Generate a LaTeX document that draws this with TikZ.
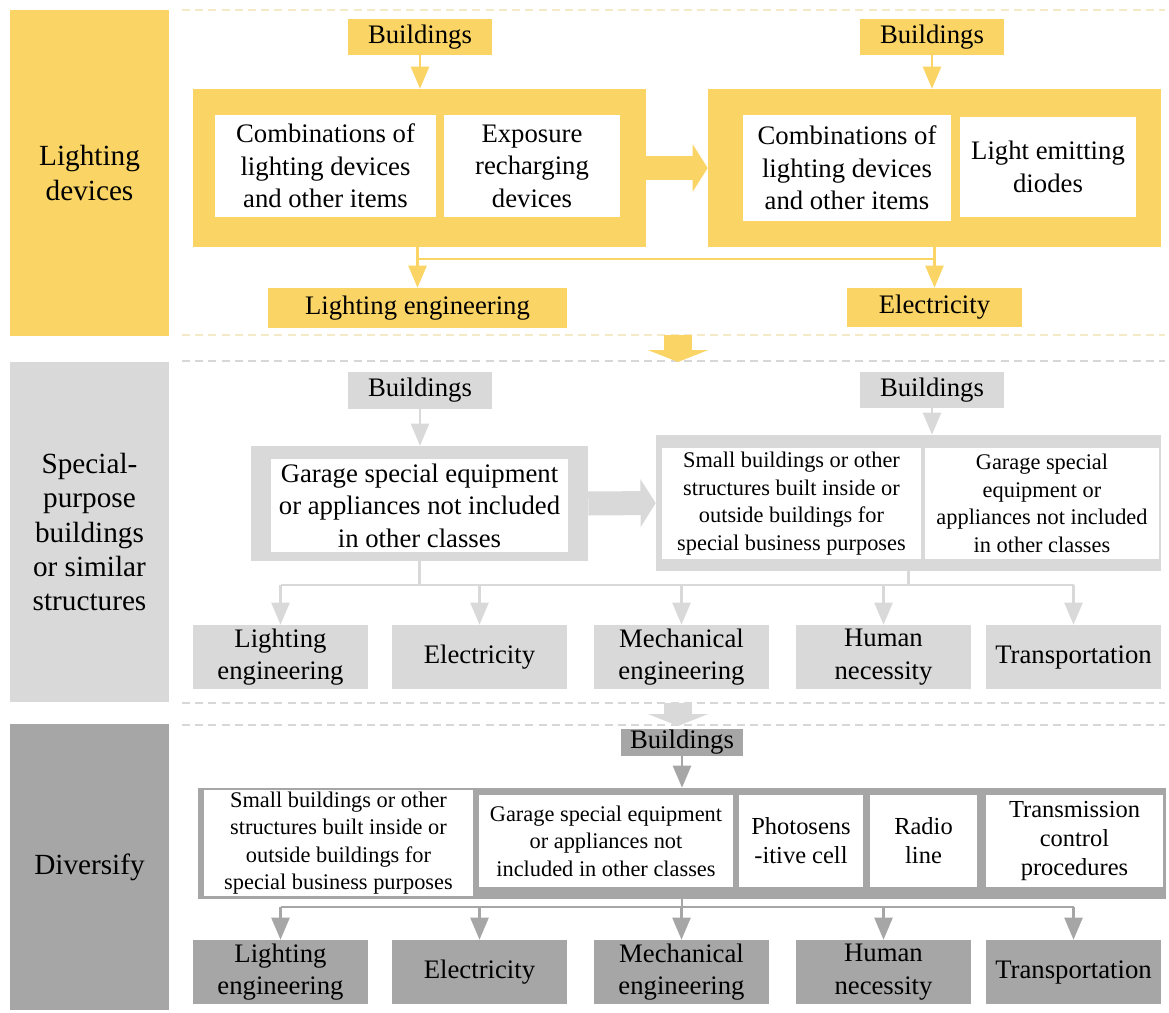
\documentclass[tikz,border=0pt]{standalone}
\usepackage{fontspec}
\setmainfont{Liberation Serif}
\usetikzlibrary{arrows.meta}

\definecolor{yel}{RGB}{250,212,100}
\definecolor{yeldash}{RGB}{244,234,200}
\definecolor{lgray}{RGB}{217,217,217}
\definecolor{dgray}{RGB}{166,166,166}
\definecolor{gdash}{RGB}{215,215,215}

\newcommand{\mainfs}{\fontsize{19}{23.1}\selectfont}
\newcommand{\labfs}{\fontsize{20.8}{24.5}\selectfont}
\newcommand{\smallfs}{\fontsize{15.9}{19.6}\selectfont}
\newcommand{\midfs}{\fontsize{17.4}{20.6}\selectfont}

\tikzset{
  every node/.style={align=center, inner sep=0pt, font=\mainfs},
  sz/.style 2 args={minimum width=#1*0.025cm, minimum height=#2*0.025cm},
  ybox/.style={fill=yel},
  gbox/.style={fill=lgray},
  dbox/.style={fill=dgray},
  wbox/.style={fill=white},
  sep/.style={line width=0.8pt, dash pattern=on 0.2cm off 0.13cm},
  ln/.style={line width=0.06cm},
  conn/.style={line width=0.06cm, -{Triangle[length=0.55cm,width=0.45cm]}},
  bigr/.style={line width=0.6cm, -{Triangle[length=0.38cm,width=1.18cm]}},
  bigd/.style={line width=0.7cm, -{Triangle[length=0.3cm,width=1.5cm]}},
}

\begin{document}
\begin{tikzpicture}[x=0.025cm, y=-0.025cm]
    \useasboundingbox (0,0) rectangle (1169,1012);

    % separators
    \draw[sep, yeldash] (182,10) -- (1165,10);
    \draw[sep, yeldash] (182,335) -- (1165,335);
    \draw[sep, gdash] (182,361) -- (1165,361);
    \draw[sep, gdash] (182,703) -- (1165,703);
    \draw[sep, gdash] (182,725) -- (1165,725);

    % lighting devices
    \node[ybox, sz={159}{326}, font=\labfs] (lab1) at (89.5,173) {Lighting\\devices};
    \node[ybox, sz={144}{36}] (bL1) at (420,37) {Buildings};
    \node[ybox, sz={144}{36}] (bR1) at (932,37) {Buildings};
    \node[ybox, sz={453}{158}] (frL1) at (419.5,168) {};
    \node[ybox, sz={453}{158}] (frR1) at (934.5,168) {};
    \node[wbox, sz={221}{102}] (cL1) at (325.5,166) {Combinations of\\lighting devices\\and other items};
    \node[wbox, sz={176}{102}] (ex1) at (532,166) {Exposure\\recharging\\devices};
    \node[wbox, sz={208}{106}] (cR1) at (847,168) {Combinations of\\lighting devices\\and other items};
    \node[wbox, sz={176}{100}] (led1) at (1048,167) {Light emitting\\diodes};
    \node[ybox, sz={299}{40}] (le1) at (417.5,308) {Lighting engineering};
    \node[ybox, sz={175}{39}] (el1) at (934.5,307.5) {Electricity};

    \draw[conn, yel] (bL1.south) -- (bL1.south |- frL1.north);
    \draw[conn, yel] (bR1.south) -- (bR1.south |- frR1.north);
    \draw[bigr, yel] (frL1.east) -- (frR1.west);
    \coordinate (j1) at (0,259);
    \draw[conn, yel] (le1.north |- frL1.south) -- (le1.north);
    \draw[conn, yel] (el1.north |- frR1.south) -- (el1.north);
    \draw[ln, yel] (le1.north |- j1) -- (el1.north |- j1);

    \coordinate (d1a) at (678,335);
    \coordinate (d1b) at (678,362);
    \draw[bigd, yel] (d1a) -- (d1b);

    % special-purpose buildings
    \node[gbox, sz={159}{340}, font=\labfs] (lab2) at (89.5,532) {Special-\\purpose\\buildings\\or similar\\structures};
    \node[gbox, sz={144}{37}] (bL2) at (420,390.5) {Buildings};
    \node[gbox, sz={144}{36}] (bR2) at (932,390) {Buildings};
    \node[gbox, sz={337}{115}] (frL2) at (419.5,503.5) {};
    \node[gbox, sz={505}{136}] (frR2) at (908.5,503) {};
    \node[wbox, sz={297}{93}] (gL2) at (419.5,505.5) {Garage special equipment\\or appliances not included\\in other classes};
    \node[wbox, sz={259}{111}, font=\smallfs] (sm2) at (791.5,503.5) {Small buildings or other\\structures built inside or\\outside buildings for\\special business purposes};
    \node[wbox, sz={234}{111}, font=\smallfs] (gR2) at (1042,503.5) {Garage special\\equipment or\\appliances not included\\in other classes};
    \node[gbox, sz={175}{64}] (le2) at (280.5,657) {Lighting\\engineering};
    \node[gbox, sz={175}{64}] (el2) at (479.5,657) {Electricity};
    \node[gbox, sz={175}{64}] (me2) at (681.5,657) {Mechanical\\engineering};
    \node[gbox, sz={175}{64}] (hn2) at (883.5,657) {Human\\necessity};
    \node[gbox, sz={175}{64}] (tr2) at (1073.5,657) {Transportation};

    \draw[conn, lgray] (bL2.south) -- (bL2.south |- frL2.north);
    \draw[conn, lgray] (bR2.south) -- (bR2.south |- frR2.north);
    \draw[bigr, lgray] (frL2.east) -- (frR2.west);
    \coordinate (j2) at (0,585);
    \draw[ln, lgray] (frL2.south) -- (frL2.south |- j2);
    \draw[ln, lgray] (frR2.south) -- (frR2.south |- j2);
    \draw[ln, lgray] (le2.north |- j2) -- (tr2.north |- j2);
    \draw[conn, lgray] (le2.north |- j2) -- (le2.north);
    \draw[conn, lgray] (el2.north |- j2) -- (el2.north);
    \draw[conn, lgray] (me2.north |- j2) -- (me2.north);
    \draw[conn, lgray] (hn2.north |- j2) -- (hn2.north);
    \draw[conn, lgray] (tr2.north |- j2) -- (tr2.north);

    \coordinate (d2a) at (678,703);
    \coordinate (d2b) at (678,726);
    \draw[bigd, lgray] (d2a) -- (d2b);

    % diversify
    \node[dbox, sz={159}{286}, font=\labfs] (lab3) at (89.5,867) {Diversify};
    \node[dbox, sz={122}{27}] (b3) at (682,742.5) {Buildings};
    \node[dbox, sz={968}{111}] (fr3) at (682,843.5) {};
    \node[wbox, sz={269}{106}, font=\smallfs] (sm3) at (338.5,843) {Small buildings or other\\structures built inside or\\outside buildings for\\special business purposes};
    \node[wbox, sz={254}{92}, font=\smallfs] (g3) at (606,841) {Garage special equipment\\or appliances not\\included in other classes};
    \node[wbox, sz={124}{92}, font=\midfs] (ph3) at (801,841) {Photosens\\-itive cell};
    \node[wbox, sz={107}{92}, font=\midfs] (ra3) at (923.5,841) {Radio\\line};
    \node[wbox, sz={177}{92}, font=\midfs] (tc3) at (1074.5,841) {Transmission\\control\\procedures};
    \node[dbox, sz={175}{64}] (le3) at (280.5,972) {Lighting\\engineering};
    \node[dbox, sz={175}{64}] (el3) at (479.5,972) {Electricity};
    \node[dbox, sz={175}{64}] (me3) at (681.5,972) {Mechanical\\engineering};
    \node[dbox, sz={175}{64}] (hn3) at (883.5,972) {Human\\necessity};
    \node[dbox, sz={175}{64}] (tr3) at (1073.5,972) {Transportation};

    \draw[conn, dgray] (b3.south) -- (b3.south |- fr3.north);
    \coordinate (j3) at (0,907);
    \draw[ln, dgray] (fr3.south) -- (fr3.south |- j3);
    \draw[ln, dgray] (le3.north |- j3) -- (tr3.north |- j3);
    \draw[conn, dgray] (le3.north |- j3) -- (le3.north);
    \draw[conn, dgray] (el3.north |- j3) -- (el3.north);
    \draw[conn, dgray] (me3.north |- j3) -- (me3.north);
    \draw[conn, dgray] (hn3.north |- j3) -- (hn3.north);
    \draw[conn, dgray] (tr3.north |- j3) -- (tr3.north);
\end{tikzpicture}
\end{document}
